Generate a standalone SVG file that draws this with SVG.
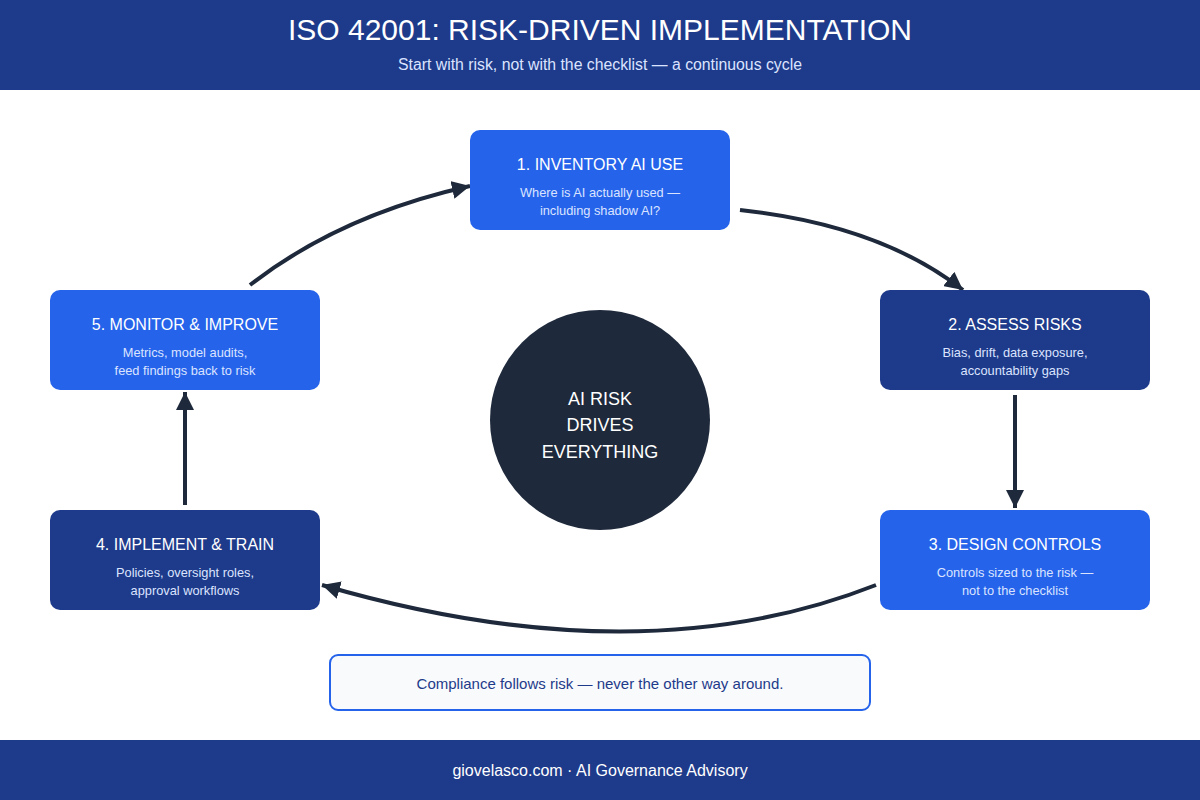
<svg xmlns="http://www.w3.org/2000/svg" width="1200" height="800" viewBox="0 0 1200 800">
<style>
text{font-family:"Liberation Sans",Arial,sans-serif;text-anchor:middle}
.t{font-size:16px;fill:#ffffff}
.s{font-size:12.8px;fill:#dbe4ff}
.c{fill:none;stroke:#1e293b;stroke-width:4}
.light{fill:#2563eb}
.dark{fill:#1e3a8a}
</style>
<defs>
<marker id="ah" markerUnits="userSpaceOnUse" markerWidth="20" markerHeight="18" refX="18" refY="9" orient="auto">
<path d="M0,0 L18,9 L0,18 z" fill="#1e293b"/>
</marker>
</defs>
<rect width="1200" height="800" fill="#ffffff"/>
<g id="header">
<rect x="0" y="0" width="1200" height="90" fill="#1e3a8a"/>
<text x="600" y="40" style="font-size:30px;fill:#ffffff">ISO 42001: RISK-DRIVEN IMPLEMENTATION</text>
<text x="600" y="70" style="font-size:15.8px;fill:#dbe4ff">Start with risk, not with the checklist — a continuous cycle</text>
</g>
<g id="connectors">
<path class="c" d="M250,285 Q340,215 470,186" marker-end="url(#ah)"/>
<path class="c" d="M740,210 Q880,225 963,290" marker-end="url(#ah)"/>
<path class="c" d="M1015,395 L1015,508" marker-end="url(#ah)"/>
<path class="c" d="M876,585 Q640,678 322,585" marker-end="url(#ah)"/>
<path class="c" d="M185,505 L185,392" marker-end="url(#ah)"/>
</g>
<g id="node1">
<rect class="light" x="470" y="130" width="260" height="100" rx="10"/>
<text class="t" x="600" y="170">1. INVENTORY AI USE</text>
<text class="s" x="600" y="197">Where is AI actually used —</text>
<text class="s" x="600" y="215">including shadow AI?</text>
</g>
<g id="node2">
<rect class="dark" x="880" y="290" width="270" height="100" rx="10"/>
<text class="t" x="1015" y="330">2. ASSESS RISKS</text>
<text class="s" x="1015" y="357">Bias, drift, data exposure,</text>
<text class="s" x="1015" y="375">accountability gaps</text>
</g>
<g id="node3">
<rect class="light" x="880" y="510" width="270" height="100" rx="10"/>
<text class="t" x="1015" y="550">3. DESIGN CONTROLS</text>
<text class="s" x="1015" y="577">Controls sized to the risk —</text>
<text class="s" x="1015" y="595">not to the checklist</text>
</g>
<g id="node4">
<rect class="dark" x="50" y="510" width="270" height="100" rx="10"/>
<text class="t" x="185" y="550">4. IMPLEMENT &amp; TRAIN</text>
<text class="s" x="185" y="577">Policies, oversight roles,</text>
<text class="s" x="185" y="595">approval workflows</text>
</g>
<g id="node5">
<rect class="light" x="50" y="290" width="270" height="100" rx="10"/>
<text class="t" x="185" y="330">5. MONITOR &amp; IMPROVE</text>
<text class="s" x="185" y="357">Metrics, model audits,</text>
<text class="s" x="185" y="375">feed findings back to risk</text>
</g>
<g id="center">
<circle cx="600" cy="420" r="110" fill="#1e293b"/>
<text x="600" y="405" style="font-size:18px;fill:#ffffff">AI RISK</text>
<text x="600" y="431" style="font-size:18px;fill:#ffffff">DRIVES</text>
<text x="600" y="458" style="font-size:18px;fill:#ffffff">EVERYTHING</text>
</g>
<g id="callout">
<rect x="330" y="655" width="540" height="55" rx="8" fill="#f8fafc" stroke="#2563eb" stroke-width="2"/>
<text x="600" y="689" style="font-size:15px;fill:#1e3a8a">Compliance follows risk — never the other way around.</text>
</g>
<g id="footer">
<rect x="0" y="740" width="1200" height="60" fill="#1e3a8a"/>
<text x="600" y="776" style="font-size:16px;fill:#ffffff">giovelasco.com · AI Governance Advisory</text>
</g>
</svg>
